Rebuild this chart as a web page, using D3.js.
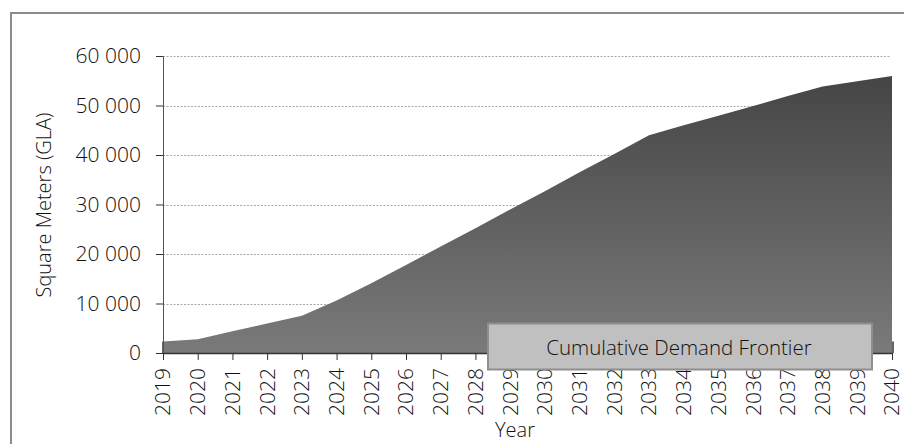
<!DOCTYPE html>
<html>
<head>
<meta charset="utf-8">
<script src="https://cdn.jsdelivr.net/npm/d3@7"></script>
<style>
  body { margin: 0; background: #fff; }
  text { font-family: "Open Sans", "Noto Sans", sans-serif; font-weight: 300; fill: #111; }
</style>
</head>
<body>
<svg id="chart"></svg>
<script>
// Chart size
const width = 904, height = 444;

// Data
const years = [2019, 2020, 2021, 2022, 2023, 2024, 2025, 2026, 2027, 2028, 2029,
               2030, 2031, 2032, 2033, 2034, 2035, 2036, 2037, 2038, 2039, 2040];
const demand = [2300, 2800, 4400, 5950, 7550, 10600, 14100, 17800, 21500, 25200, 29000,
                32700, 36500, 40200, 44000, 46000, 47950, 49900, 51900, 53850, 54900, 55950];
const frontier = 2300;   // small base series shown only by its edges
const yTicks = [0, 10000, 20000, 30000, 40000, 50000, 60000];
const legendLabel = "Cumulative Demand Frontier";

const margin = {left: 163, right: 12, top: 56, bottom: 91};

const svg = d3.select("#chart")
    .attr("width", width)
    .attr("height", height);

// outer frame (cut off at right/bottom like the original)
svg.append("rect")
    .attr("x", 11).attr("y", 13)
    .attr("width", 900).attr("height", 440)
    .attr("fill", "none")
    .attr("stroke", "#8c8c8c")
    .attr("stroke-width", 2);

const x = d3.scaleLinear()
    .domain([years[0], years[years.length - 1]])
    .range([margin.left, width - margin.right]);

const y = d3.scaleLinear()
    .domain([0, 60000])
    .range([height - margin.bottom, margin.top]);

// gradient for the area
const grad = svg.append("defs").append("linearGradient")
    .attr("id", "areaGrad")
    .attr("gradientUnits", "userSpaceOnUse")
    .attr("x1", 0).attr("x2", 0)
    .attr("y1", y(56000)).attr("y2", y(0));
grad.append("stop").attr("offset", "0%").attr("stop-color", "#454545");
grad.append("stop").attr("offset", "100%").attr("stop-color", "#7a7a7a");

// gridlines
svg.append("g")
    .selectAll("line")
    .data(yTicks.filter(d => d > 0))
    .enter().append("line")
    .attr("x1", x(2019)).attr("x2", x(2040) - 2)
    .attr("y1", d => Math.round(y(d)) + 0.5)
    .attr("y2", d => Math.round(y(d)) + 0.5)
    .attr("stroke", "#a8a8a8")
    .attr("stroke-dasharray", "2,1.5");

// main area
const area = d3.area()
    .x((d, i) => x(years[i]))
    .y0(y(0))
    .y1(d => y(d));

svg.append("path")
    .datum(demand)
    .attr("d", area)
    .attr("fill", "url(#areaGrad)");

// base series edges
svg.append("path")
    .attr("d", "M" + x(2019) + "," + y(frontier) + "V" + y(0) +
               "M" + (x(2040) + 1) + "," + y(frontier) + "V" + y(0))
    .attr("stroke", "#333")
    .attr("stroke-width", 1.5)
    .attr("fill", "none");

const fmt = d => d3.format(",")(d).replace(/,/g, " ");

// y axis
const yAxis = svg.append("g")
    .attr("transform", "translate(" + margin.left + ",0)")
    .call(d3.axisLeft(y).tickValues(yTicks).tickSize(7).tickPadding(15).tickFormat(fmt));
yAxis.select(".domain").attr("stroke", "#555");
yAxis.selectAll(".tick line").attr("stroke", "#333");
yAxis.selectAll("text")
    .attr("font-size", "21px")
    .attr("font-family", null)
    .attr("fill", "#111");

// x axis
const xAxis = svg.append("g")
    .attr("transform", "translate(0," + y(0) + ")")
    .call(d3.axisBottom(x).tickValues(years).tickSize(7).tickSizeOuter(0)
        .tickFormat(d3.format("d")));
xAxis.select(".domain").attr("stroke", "#333").attr("stroke-width", 1.5);
xAxis.selectAll(".tick line").attr("stroke", "#333");
xAxis.selectAll("text")
    .attr("font-size", "21px")
    .attr("font-family", null)
    .attr("fill", "#111")
    .attr("transform", "rotate(-90)")
    .attr("text-anchor", "end")
    .attr("x", -15)
    .attr("y", 0)
    .attr("dy", "0.33em");

// axis titles
svg.append("text")
    .attr("transform", "translate(44," + 205 + ") rotate(-90)")
    .attr("text-anchor", "middle")
    .attr("dy", "0.35em")
    .attr("font-size", "20px")
    .text("Square Meters (GLA)");

svg.append("text")
    .attr("x", 515)
    .attr("y", 437)
    .attr("text-anchor", "middle")
    .attr("font-size", "20px")
    .text("Year");

// legend box
const legend = svg.append("g");
legend.append("rect")
    .attr("x", 488).attr("y", 323.5)
    .attr("width", 384).attr("height", 46)
    .attr("fill", "#c0c0c0")
    .attr("stroke", "#8e8e8e")
    .attr("stroke-width", 2);
legend.append("text")
    .attr("x", 679)
    .attr("y", 348)
    .attr("dy", "0.35em")
    .attr("text-anchor", "middle")
    .attr("font-size", "20.5px")
    .text(legendLabel);
</script>
</body>
</html>
